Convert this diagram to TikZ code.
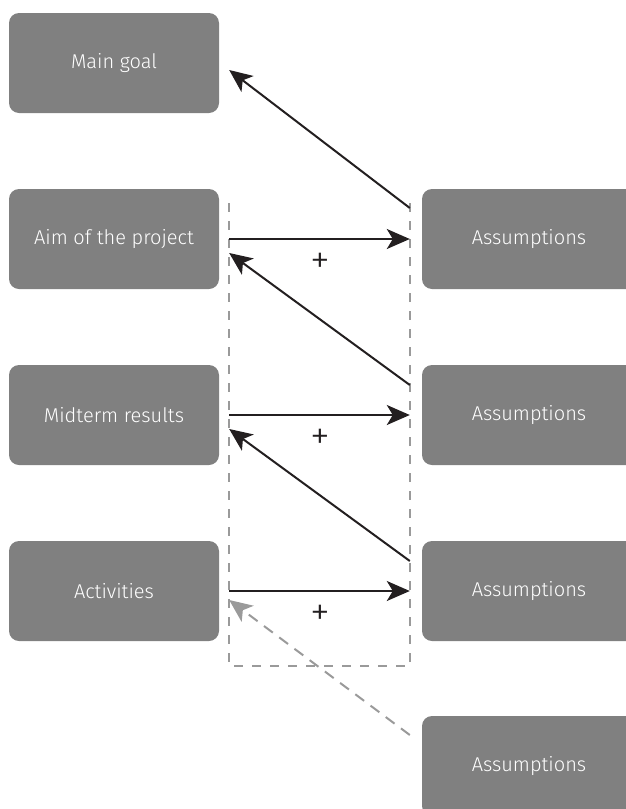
\documentclass[tikz,border=0pt]{standalone}
\usepackage{fontspec}
\setmainfont{Fira Sans}[UprightFont=* Light]
\usetikzlibrary{arrows.meta,calc}
\definecolor{boxgray}{HTML}{808080}
\definecolor{dashgray}{HTML}{9A9A9A}
\definecolor{inkblack}{HTML}{231F20}
\tikzset{
  block/.style={fill=boxgray, rounded corners=10pt, text=white,
    minimum width=210pt, minimum height=100pt, inner sep=0pt,
    font=\fontsize{20}{24}\selectfont},
  link/.style={inkblack, line width=2pt, -{Stealth[length=23pt,width=20pt,inset=6pt]}},
  weak/.style={link, dashgray, dash pattern=on 11pt off 8pt},
  frame/.style={dashgray, line width=1.6pt, dash pattern=on 9pt off 9pt},
  plussign/.style={inner sep=0pt, text=inkblack, font=\fontsize{40}{42}\selectfont}
}
\begin{document}
\begin{tikzpicture}[x=1pt,y=-1pt]
    \useasboundingbox (0,0) rectangle (625,809);

    % Colonne de gauche
    \node[block] (goal) at (114,63)  {Main goal};
    \node[block] (aim)  at (114,239) {Aim of the project};
    \node[block] (mid)  at (114,415) {Midterm results};
    \node[block] (act)  at (114,591) {Activities};

    % Colonne de droite
    \node[block, minimum width=214pt] (as1) at (529,239) {Assumptions};
    \node[block, minimum width=214pt] (as2) at (529,415) {Assumptions};
    \node[block, minimum width=214pt] (as3) at (529,591) {Assumptions};
    \node[block, minimum width=214pt] (as4) at (529,766) {Assumptions};

    % Cadre en pointillés
    \coordinate (fl) at (229,203);
    \coordinate (fr) at (410,203);
    \coordinate (bl) at (229,666);
    \coordinate (br) at (410,666);
    \draw[frame] (fl) -- (bl) -- (br) -- (fr);

    % Flèches horizontales
    \draw[link] ($(aim.east)+(10,0)$) -- ($(as1.west)+(-12,0)$);
    \draw[link] ($(mid.east)+(10,0)$) -- ($(as2.west)+(-12,0)$);
    \draw[link] ($(act.east)+(10,0)$) -- ($(as3.west)+(-12,0)$);

    % Flèches diagonales
    \draw[link] ($(as1.west)+(-12,-31)$) -- ($(goal.east)+(10,7)$);
    \draw[link] ($(as2.west)+(-12,-30)$) -- ($(aim.east)+(10,14)$);
    \draw[link] ($(as3.west)+(-12,-30)$) -- ($(mid.east)+(10,14)$);
    \draw[weak] ($(as4.west)+(-12,-31)$) -- ($(act.east)+(10,9)$);

    % Signes plus
    \node[plussign] (p1) at (320,263) {+};
    \node[plussign] (p2) at (320,439) {+};
    \node[plussign] (p3) at (320,615) {+};
\end{tikzpicture}
\end{document}
